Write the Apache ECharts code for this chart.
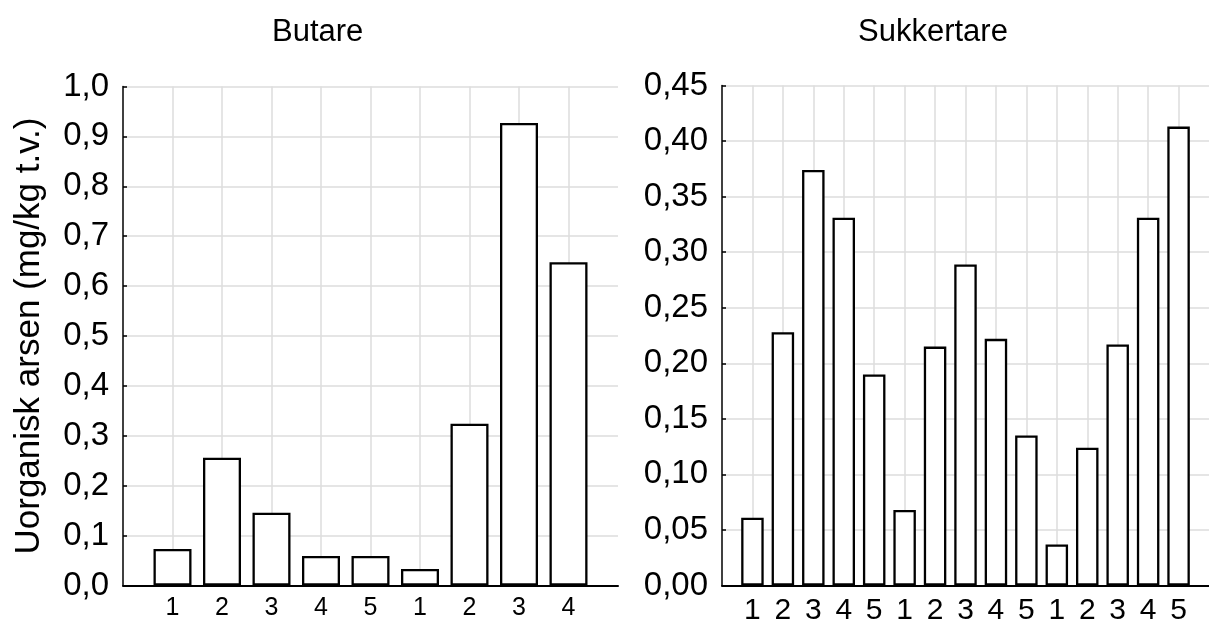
<!DOCTYPE html>
<html>
<head>
<meta charset="utf-8">
<script src="https://cdn.jsdelivr.net/npm/echarts@6/dist/echarts.min.js"></script>
<style>
html,body{margin:0;padding:0;background:#fff;}
#chart{width:1209px;height:626px;}
</style>
</head>
<body>
<div id="chart"></div>
<script>
var butareTitle = 'Butare';
var sukkerTitle = 'Sukkertare';
var yAxisName = 'Uorganisk arsen (mg/kg t.v.)';
var butareLabels = ['1','2','3','4','5','1','2','3','4'];
var butareValues = [0.073, 0.256, 0.146, 0.059, 0.059, 0.033, 0.324, 0.927, 0.648];
var sukkerLabels = ['1','2','3','4','5','1','2','3','4','5','1','2','3','4','5'];
var sukkerValues = [0.061, 0.228, 0.374, 0.331, 0.190, 0.068, 0.215, 0.289, 0.222, 0.135, 0.037, 0.124, 0.217, 0.331, 0.413];

var FONT = '"Liberation Sans", Arial, sans-serif';
function pad(arr, empty){ return [empty].concat(arr).concat([empty]); }
var leftCats = pad(butareLabels, '');
var rightCats = pad(sukkerLabels, '');
var leftData = pad(butareValues, null);
var rightData = pad(sukkerValues, null);

function xAxisCfg(gridIndex, cats, fontSize){
  var n = cats.length;
  var inner = function(i){ return i > 0 && i < n - 1; };
  return {
    type: 'category', gridIndex: gridIndex, data: cats, boundaryGap: false,
    axisLine: {show: true, lineStyle: {color: '#000', width: 2}},
    axisTick: {show: true, inside: true, length: 3, interval: inner, lineStyle: {color: '#000', width: 1.5}},
    axisLabel: {interval: inner, color: '#000', fontFamily: FONT, fontSize: fontSize, margin: 10},
    splitLine: {show: true, interval: inner, lineStyle: {color: '#dcdcdc', width: 1.5}}
  };
}
function yAxisCfg(gridIndex, max, interval, decimals, extra){
  var cfg = {
    type: 'value', gridIndex: gridIndex, min: 0, max: max, interval: interval,
    axisLine: {show: true, lineStyle: {color: '#000', width: 1.5}},
    axisTick: {show: true, inside: true, length: 4, lineStyle: {color: '#000', width: 1.5}},
    axisLabel: {color: '#000', fontFamily: FONT, fontSize: 33, margin: 14,
      formatter: function(v){ return v.toFixed(decimals).replace('.', ','); }},
    splitLine: {show: true, lineStyle: {color: '#dcdcdc', width: 1.5}}
  };
  for (var k in extra) cfg[k] = extra[k];
  return cfg;
}
var chart = echarts.init(document.getElementById('chart'), null, {renderer: 'canvas'});
chart.setOption({
  animation: false,
  backgroundColor: '#fff',
  title: [
    {text: butareTitle, left: 267, top: 12, textStyle: {fontFamily: FONT, fontSize: 31, fontWeight: 'normal', color: '#000'}},
    {text: sukkerTitle, left: 853, top: 12, textStyle: {fontFamily: FONT, fontSize: 31, fontWeight: 'normal', color: '#000'}}
  ],
  grid: [
    {left: 123, top: 86.5, width: 495, height: 499},
    {left: 722, top: 85.5, width: 497.6, height: 500}
  ],
  xAxis: [xAxisCfg(0, leftCats, 25), xAxisCfg(1, rightCats, 30)],
  yAxis: [
    yAxisCfg(0, 1.0, 0.1, 1, {name: yAxisName, nameLocation: 'middle', nameRotate: 90, nameGap: 76,
      nameTextStyle: {fontFamily: FONT, fontSize: 35, color: '#000'}}),
    yAxisCfg(1, 0.45, 0.05, 2, {})
  ],
  series: [
    {type: 'bar', xAxisIndex: 0, yAxisIndex: 0, data: leftData, barWidth: 38,
      itemStyle: {color: '#fff', borderColor: '#000', borderWidth: 2.3}},
    {type: 'bar', xAxisIndex: 1, yAxisIndex: 1, data: rightData, barWidth: 22.5,
      itemStyle: {color: '#fff', borderColor: '#000', borderWidth: 2.3}}
  ]
});
</script>
</body>
</html>
